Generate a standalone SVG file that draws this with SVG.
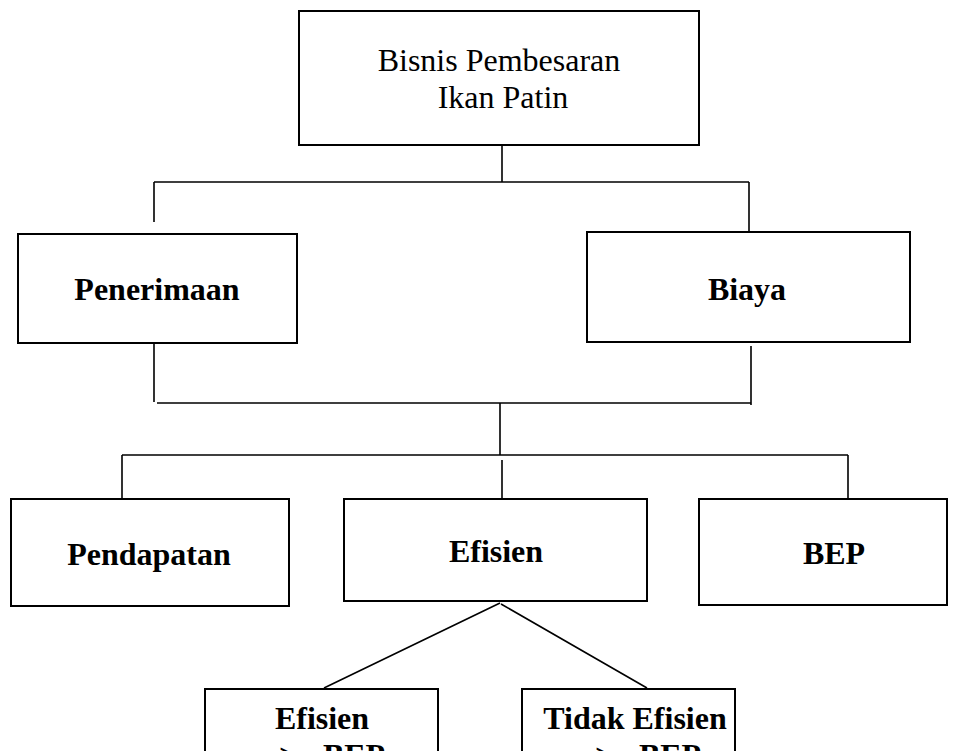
<svg xmlns="http://www.w3.org/2000/svg" width="960" height="751" viewBox="0 0 960 751">
<style>
.box{fill:#fff;stroke:#000;stroke-width:2}
.ln{fill:none;stroke:#000;stroke-width:1.6}
.t{font-family:"Liberation Serif","Times New Roman",serif;font-size:32px;fill:#000;text-anchor:middle}
.b{font-weight:bold}
</style>
<rect width="960" height="751" fill="#fff"/>
<g id="connectors">
<path class="ln" d="M502 145V182M154 182H749M154 182V222M749 182V233"/>
<path class="ln" d="M154 343V402M157 403H751M751 346V405"/>
<path class="ln" d="M500 403V455M122 455H848M122 455V499M848 455V499M502 460V503"/>
<path class="ln" d="M500 603L324 688M501 604L647 688"/>
</g>
<g id="node-bisnis">
<rect class="box" x="299" y="11" width="400" height="134"/>
<text class="t" x="499" y="71">Bisnis Pembesaran</text>
<text class="t" x="503" y="108">Ikan Patin</text>
</g>
<g id="node-penerimaan">
<rect class="box" x="18" y="234" width="279" height="109"/>
<text class="t b" x="157" y="300">Penerimaan</text>
</g>
<g id="node-biaya">
<rect class="box" x="587" y="232" width="323" height="110"/>
<text class="t b" x="747" y="300">Biaya</text>
</g>
<g id="node-pendapatan">
<rect class="box" x="11" y="499" width="278" height="107"/>
<text class="t b" x="149" y="565">Pendapatan</text>
</g>
<g id="node-efisien">
<rect class="box" x="344" y="499" width="303" height="102"/>
<text class="t b" x="496" y="562">Efisien</text>
</g>
<g id="node-bep">
<rect class="box" x="699" y="499" width="248" height="106"/>
<text class="t b" x="834" y="564">BEP</text>
</g>
<g id="node-efisien-bep">
<rect class="box" x="205" y="689" width="233" height="120"/>
<text class="t b" x="322" y="729">Efisien</text>
<text class="t b" y="766"><tspan x="288">&gt;</tspan><tspan x="354">BEP</tspan></text>
</g>
<g id="node-tidak-efisien">
<rect class="box" x="522" y="689" width="213" height="120"/>
<text class="t b" x="635" y="729">Tidak Efisien</text>
<text class="t b" y="766"><tspan x="604">&gt;</tspan><tspan x="670">BEP</tspan></text>
</g>
</svg>
